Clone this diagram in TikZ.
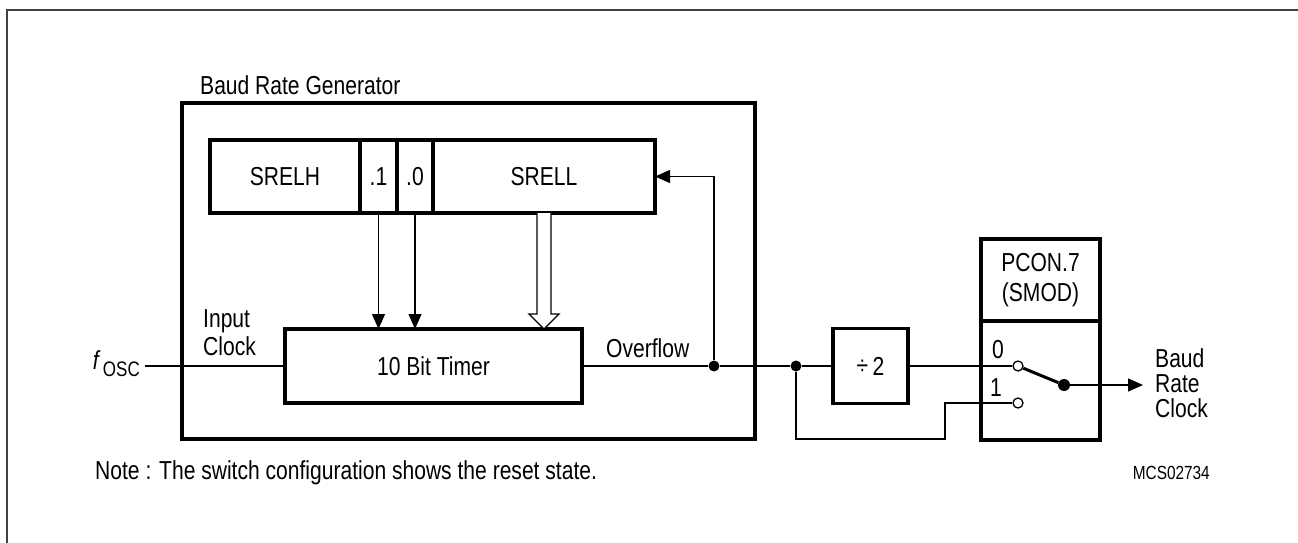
\documentclass[tikz,border=0pt]{standalone}
\usepackage{fontspec}
\setmainfont{Liberation Sans}[FakeStretch=0.81]
\usetikzlibrary{arrows.meta,calc}
\begin{document}
\begin{tikzpicture}[x=1pt,y=-1pt,
  font=\fontsize{26}{28}\selectfont,
  thickbox/.style={draw, line width=3.5pt, inner sep=0, outer sep=0},
  wire/.style={line width=1.3pt},
  tip/.style={-{Triangle[length=15pt,width=13pt]}},
  dot/.style={circle, fill, inner sep=0, minimum size=11pt},
  contact/.style={circle, draw, fill=white, line width=1.3pt, inner sep=0, minimum size=10pt},
  lbl/.style={inner sep=0}]
\useasboundingbox (0,0) rectangle (1298,543);
\draw[line width=2pt, black!75] (7,543) -- (7,10) -- (1298,10);

% Baud rate generator frame
\node[thickbox, minimum width=573pt, minimum height=336pt] (brg) at (468.5,271) {};
\node[lbl, anchor=base west] (brgl) at (200,95) {Baud Rate Generator};

% reload register
\node[thickbox, minimum width=150pt, minimum height=73pt] (srelh) at (285,176.5) {SRELH};
\node[thickbox, minimum width=37pt, minimum height=73pt] (b1) at (378.5,176.5) {.1};
\node[thickbox, minimum width=36pt, minimum height=73pt] (b0) at (415,176.5) {.0};
\node[thickbox, minimum width=222pt, minimum height=73pt] (srell) at (544,176.5) {SRELL};

% timer
\node[thickbox, minimum width=297pt, minimum height=74pt] (timer) at (433.5,366) {10 Bit Timer};

% arrows from register to timer
\draw[wire,tip] (b1.south) -- (b1.south |- timer.north);
\draw[wire,tip] (b0.south) -- (b0.south |- timer.north);
\coordinate (ht) at (srell.south |- timer.north);
\draw[wire, fill=white, line join=miter]
  ($(srell.south)+(-7,0)$) -- ($(ht)+(-7,-15)$) -- ($(ht)+(-15,-15)$) -- (ht)
  -- ($(ht)+(15,-15)$) -- ($(ht)+(7,-15)$) -- ($(srell.south)+(7,0)$);

% input clock
\node[lbl, anchor=east] (fosc) at (140,364) {\itshape f\upshape\,\raisebox{-7pt}{\fontsize{21}{21}\selectfont OSC}};
\coordinate (fin) at (145,366);
\draw[wire] (fin) -- (timer.west |- fin);
\node[lbl, anchor=west, align=left] (inclk) at (203,333) {Input\\Clock};

% overflow
\node[dot] (d1) at (714,366) {};
\node[dot] (d2) at (796,366) {};
\node[lbl, anchor=west] (ovf) at (606,348) {Overflow};
\draw[wire] (timer.east) -- (d1) -- (d2);
\draw[wire,tip] (d1) |- (srell.east);

% divide by 2
\node[thickbox, minimum width=75pt, minimum height=75pt] (div) at (870.5,366) {\raisebox{1pt}{÷}\,2};
\draw[wire] (d2) -- (div.west);

% PCON.7 switch
\node[thickbox, minimum width=119pt, minimum height=82pt, align=center, font=\fontsize{26}{30}\selectfont] (pcon) at (1040.5,280) {PCON.7\\(SMOD)};
\node[thickbox, minimum width=119pt, minimum height=119pt] (sw) at (1040.5,380.5) {};
\node[contact] (c0) at (1018,366) {};
\node[contact] (c1) at (1018,403) {};
\node[dot, minimum size=12pt] (piv) at (1064,385) {};
\node[lbl] (l0) at (998,350) {0};
\node[lbl] (l1) at (996,388) {1};
\draw[wire] (div.east) -- (c0.west);
\coordinate (bend) at (945,439);
\draw[wire] (d2) |- (bend) |- (c1.west);
\draw[line width=3pt] (c0) -- (piv);
\coordinate (out) at (1143,385);
\draw[wire,tip] (piv) -- (out);
\node[lbl, anchor=west, align=left, font=\fontsize{26}{25}\selectfont] (brc) at (1155,383) {Baud\\Rate\\Clock};

% notes
\node[lbl, anchor=west] (note) at (95,473) {Note : The switch configuration shows the reset state.};
\node[lbl, anchor=east, font=\fontsize{19}{19}\selectfont] (mcs) at (1210,473) {MCS02734};
\end{tikzpicture}
\end{document}
